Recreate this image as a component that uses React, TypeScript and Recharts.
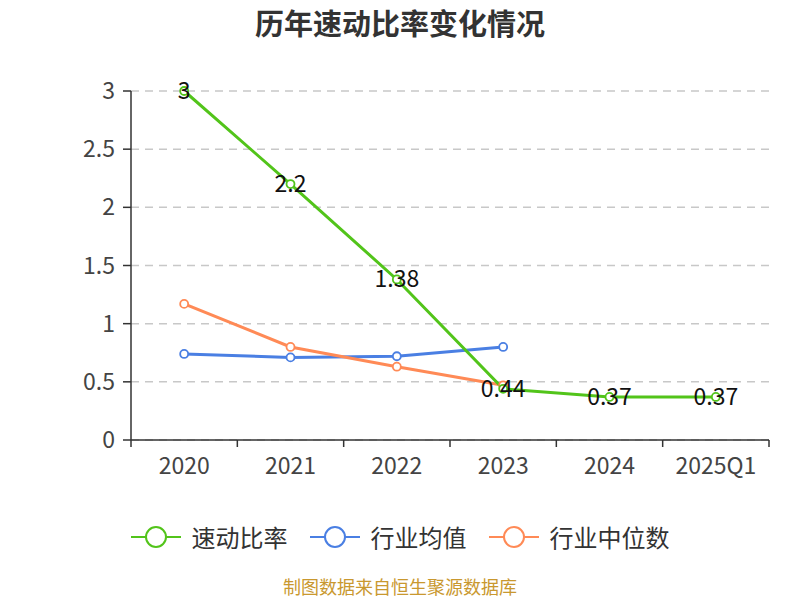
import React from "react";
import {
  ComposedChart,
  Line,
  Bar,
  XAxis,
  YAxis,
  CartesianGrid,
  LabelList,
} from "recharts";

const years = ["2020", "2021", "2022", "2023", "2024", "2025Q1"];
const quickRatio = [3, 2.2, 1.38, 0.44, 0.37, 0.37];
const industryMean = [0.74, 0.71, 0.72, 0.8, null, null];
const industryMedian = [1.17, 0.8, 0.63, 0.47, null, null];
const yTicks = [0, 0.5, 1, 1.5, 2, 2.5, 3];

const GREEN = "#52c41a";
const BLUE = "#4a7fe3";
const ORANGE = "#ff8a56";
const FONT = "'Noto Sans CJK SC', 'Noto Sans', sans-serif";

const seriesInfo = [
  { name: "速动比率", color: GREEN },
  { name: "行业均值", color: BLUE },
  { name: "行业中位数", color: ORANGE },
];

const data = years.map((y, i) => ({
  name: y,
  quick: quickRatio[i],
  mean: industryMean[i],
  median: industryMedian[i],
  pad: 0,
}));

const XTick = (props: any) => {
  const { x, y, payload, index } = props;
  const band = 638 / years.length;
  return (
    <g>
      <line x1={x - band / 2} x2={x - band / 2} y1={y - 8} y2={y - 1} stroke="#333" strokeWidth={1.5} />
      {index === years.length - 1 && (
        <line x1={x + band / 2} x2={x + band / 2} y1={y - 8} y2={y - 1} stroke="#333" strokeWidth={1.5} />
      )}
      <text x={x} y={y + 16} textAnchor="middle" dominantBaseline="central" fill="#444" fontSize={23} fontFamily={FONT}>
        {payload.value}
      </text>
    </g>
  );
};

const ValueLabel = (props: any) => {
  const { x, y, value } = props;
  return (
    <text x={x} y={y} dy={-2} textAnchor="middle" dominantBaseline="central" fill="#111" fontSize={23} fontFamily={FONT}>
      {value}
    </text>
  );
};

const LegendRow = () => (
  <div
    style={{
      position: "absolute",
      top: 522,
      left: 0,
      width: 800,
      display: "flex",
      justifyContent: "center",
      gap: 22,
      fontFamily: FONT,
    }}
  >
    {seriesInfo.map((it) => (
      <div key={it.name} style={{ display: "flex", alignItems: "center" }}>
        <svg width={50} height={30} style={{ marginRight: 11 }}>
          <line x1={0} x2={50} y1={15} y2={15} stroke={it.color} strokeWidth={2} />
          <circle cx={25} cy={15} r={10} fill="#fff" stroke={it.color} strokeWidth={2} />
        </svg>
        <span style={{ fontSize: 24, color: "#333", lineHeight: "30px" }}>{it.name}</span>
      </div>
    ))}
  </div>
);

const dot = (color: string) => ({ r: 4, fill: "#fff", stroke: color, strokeWidth: 1.8 });

export default function App() {
  return (
    <div style={{ position: "fixed", left: 0, top: 0, width: 800, height: 600, background: "#fff", overflow: "hidden" }}>
      <div
        style={{
          position: "absolute",
          top: 3,
          width: 800,
          textAlign: "center",
          fontSize: 29,
          lineHeight: "38px",
          fontWeight: "bold",
          color: "#333",
          fontFamily: FONT,
        }}
      >
        历年速动比率变化情况
      </div>
      <ComposedChart
        width={800}
        height={600}
        data={data}
        margin={{ top: 91, right: 31, left: 71, bottom: 130 }}
      >
        <CartesianGrid horizontal vertical={false} stroke="#c8c8c8" strokeDasharray="8 6" strokeWidth={1.5} />
        <XAxis
          dataKey="name"
          axisLine={{ stroke: "#333", strokeWidth: 1.5 }}
          tickLine={false}
          tick={<XTick />}
          height={30}
          interval={0}
        />
        <YAxis
          domain={[0, 3]}
          ticks={yTicks}
          width={60}
          axisLine={{ stroke: "#333", strokeWidth: 1.5 }}
          tickLine={{ stroke: "#333", strokeWidth: 1.5 }}
          tickSize={8}
          tickMargin={8}
          tick={{ fill: "#444", fontSize: 23, fontFamily: FONT }}
        />
        <Bar dataKey="pad" fill="none" isAnimationActive={false} legendType="none" />
        <Line
          dataKey="mean"
          name={seriesInfo[1].name}
          stroke={BLUE}
          strokeWidth={3}
          dot={dot(BLUE)}
          activeDot={false}
          isAnimationActive={false}
        />
        <Line
          dataKey="median"
          name={seriesInfo[2].name}
          stroke={ORANGE}
          strokeWidth={3}
          dot={dot(ORANGE)}
          activeDot={false}
          isAnimationActive={false}
        />
        <Line
          dataKey="quick"
          name={seriesInfo[0].name}
          stroke={GREEN}
          strokeWidth={3}
          dot={dot(GREEN)}
          activeDot={false}
          isAnimationActive={false}
        >
          <LabelList dataKey="quick" content={<ValueLabel />} />
        </Line>
      </ComposedChart>
      <LegendRow />
      <div
        style={{
          position: "absolute",
          top: 576,
          width: 800,
          textAlign: "center",
          fontSize: 18,
          lineHeight: "20px",
          color: "#c9982f",
          fontFamily: FONT,
        }}
      >
        制图数据来自恒生聚源数据库
      </div>
    </div>
  );
}
